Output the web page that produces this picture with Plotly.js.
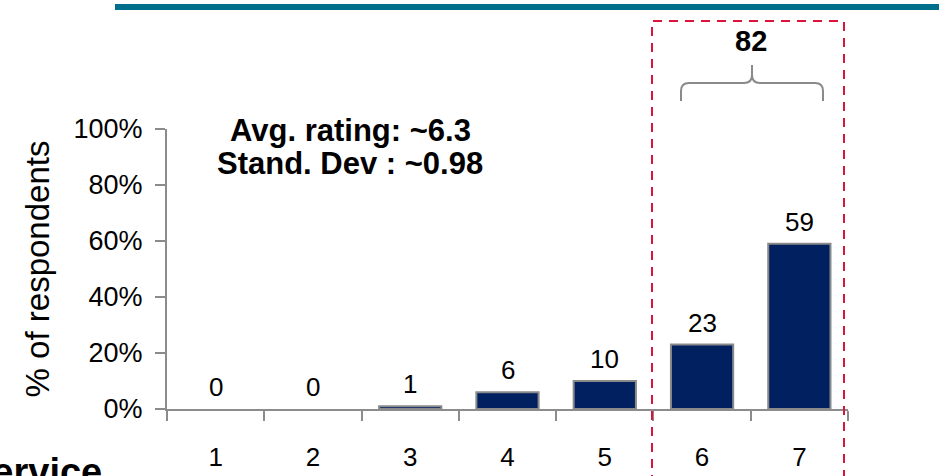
<!DOCTYPE html>
<html>
<head>
<meta charset="utf-8">
<script src="https://cdn.plot.ly/plotly-3.0.1.min.js"></script>
<style>
  html, body { margin: 0; padding: 0; background: #fff; }
  #chart { width: 939px; height: 476px; }
</style>
</head>
<body>
<div id="chart"></div>
<script>
// ---- data ----
const categories = ["1", "2", "3", "4", "5", "6", "7"];
const percentRespondents = [0, 0, 1, 6, 10, 23, 59];
const valueLabels = ["0", "0", "1", "6", "10", "23", "59"];
const yTickValues = [0, 20, 40, 60, 80, 100];
const yTickLabels = ["0%", "20%", "40%", "60%", "80%", "100%"];
const topBoxTotal = "82";
const statsText = ["Avg. rating: ~6.3", "Stand. Dev : ~0.98"];
const yAxisTitle = "% of respondents";
const footerText = "Service";

// ---- layout geometry ----
const W = 939, H = 476;
const L = 167, R = 848, T = 129, B = 409;
const pw = R - L, ph = B - T;
const px = v => (v - L) / pw;
const py = v => (B - v) / ph;

const font = "Liberation Sans, Arial, sans-serif";
const navy = "#002060";
const gray = "#8c8c8c";

const trace = {
  type: "bar",
  x: categories,
  y: percentRespondents,
  marker: {
    color: navy,
    line: { color: "#8a8a8a", width: percentRespondents.map(v => v > 0 ? 2 : 0) }
  },
  hoverinfo: "skip"
};

const annotations = categories.map((c, i) => ({
  x: i, y: percentRespondents[i], xref: "x", yref: "y",
  text: valueLabels[i], showarrow: false,
  yanchor: "bottom", yshift: 5,
  font: { family: font, size: 26, color: "#000" }
}));

const statsY = [129, 162];
statsText.forEach((t, i) => annotations.push({
  xref: "paper", yref: "paper", x: px(350), y: py(statsY[i] + 1),
  xanchor: "center", yanchor: "middle",
  text: "<b>" + t + "</b>", showarrow: false,
  font: { family: font, size: 31, color: "#000" }
}));

annotations.push({
  xref: "paper", yref: "paper", x: px(751), y: py(41),
  xanchor: "center", yanchor: "middle",
  text: "<b>" + topBoxTotal + "</b>", showarrow: false,
  font: { family: font, size: 29, color: "#000" }
});

annotations.push({
  xref: "paper", yref: "paper", x: px(104), y: py(495),
  xanchor: "right", yanchor: "bottom",
  text: "<b>" + footerText + "</b>", showarrow: false,
  font: { family: font, size: 38, color: "#000" }
});

function pathPx(cmds) {
  return cmds.map(c => {
    if (typeof c === "string") return c;
    return px(c[0]) + "," + py(c[1]);
  }).join(" ");
}

const bracket = pathPx([
  "M", [681, 101], "L", [681, 91], "Q", [681, 83], [689, 83],
  "L", [744, 83], "Q", [752, 83], [752, 75], "L", [752, 65],
  "L", [752, 75], "Q", [752, 83], [760, 83],
  "L", [815, 83], "Q", [823, 83], [823, 91], "L", [823, 101]
]);

const shapes = [
  { type: "rect", xref: "paper", yref: "paper",
    x0: px(115), x1: px(945), y0: py(10), y1: py(4),
    fillcolor: "#006F8B", line: { width: 0 } },
  { type: "rect", xref: "paper", yref: "paper",
    x0: px(652), x1: px(844), y0: py(495), y1: py(21),
    fillcolor: "rgba(0,0,0,0)",
    line: { color: "#DC143C", width: 2, dash: "9px,7px" } },
  { type: "path", xref: "paper", yref: "paper", path: bracket,
    line: { color: "#8a8a8a", width: 2 } }
];

const layout = {
  width: W, height: H,
  margin: { l: L, r: W - R, t: T, b: H - B, pad: 0 },
  paper_bgcolor: "#fff", plot_bgcolor: "#fff",
  showlegend: false,
  bargap: 0.36,
  xaxis: {
    type: "category", range: [-0.5, 6.5],
    showline: true, linecolor: gray, linewidth: 2,
    ticks: "outside", tickson: "boundaries", ticklen: 10,
    tickcolor: gray, tickwidth: 2,
    ticklabelstandoff: 24,
    showgrid: false, zeroline: false,
    tickfont: { family: font, size: 26, color: "#000" }
  },
  yaxis: {
    range: [0, 100], fixedrange: true,
    tickmode: "array", tickvals: yTickValues, ticktext: yTickLabels,
    showline: true, linecolor: gray, linewidth: 2,
    ticks: "outside", ticklen: 10, tickcolor: gray, tickwidth: 2,
    ticklabelstandoff: 7,
    showgrid: false, zeroline: false,
    tickfont: { family: font, size: 27, color: "#000" },
    title: { text: yAxisTitle, standoff: 14,
             font: { family: font, size: 33, color: "#000" } },
    automargin: false
  },
  annotations: annotations,
  shapes: shapes
};

Plotly.newPlot("chart", [trace], layout, { staticPlot: true, displayModeBar: false });
</script>
</body>
</html>
